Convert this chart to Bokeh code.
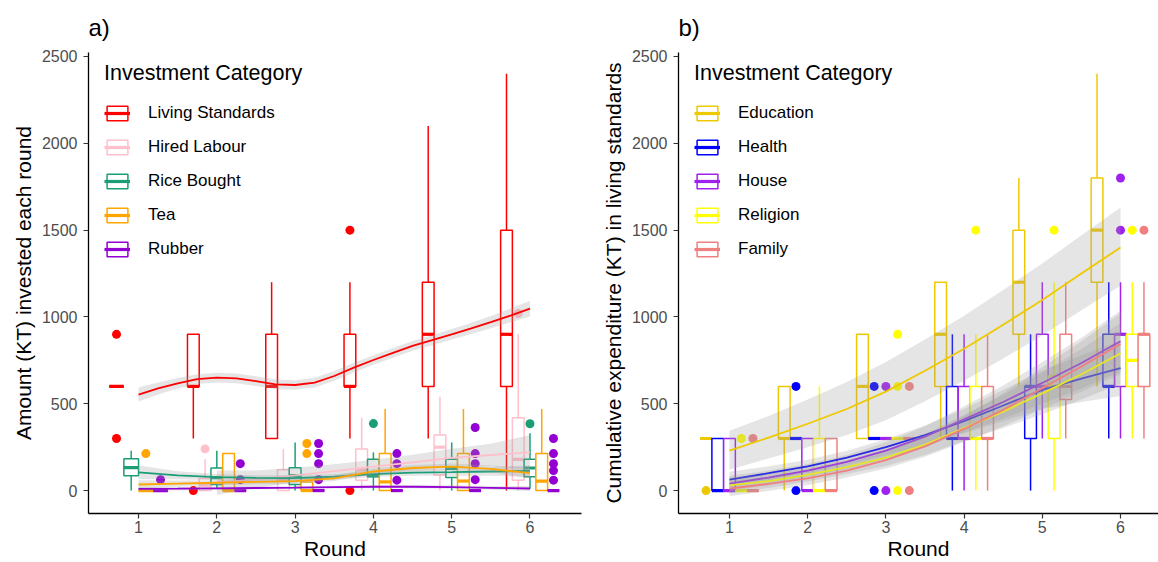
from bokeh.plotting import figure
from bokeh.layouts import row
from bokeh.models import Range1d, Legend, LegendItem, FixedTicker
from bokeh.embed import file_html
from bokeh.resources import INLINE

FONT = "Liberation Sans"
ROUNDS = [1, 2, 3, 4, 5, 6]
X_TICKS = [1, 2, 3, 4, 5, 6]
Y_TICKS = [0, 500, 1000, 1500, 2000, 2500]
SMOOTH_X = [1, 1.5, 2, 2.5, 3, 3.5, 4, 4.5, 5, 5.5, 6]
SMOOTH_X_FINE = [1, 1.25, 1.5, 1.75, 2, 2.25, 2.5, 2.75, 3, 3.25, 3.5, 3.75, 4,
                 4.25, 4.5, 4.75, 5, 5.25, 5.5, 5.75, 6]
SMOOTH_X_FROM2 = [2, 2.5, 3, 3.5, 4, 4.5, 5, 5.5, 6]

# ---------------- Panel a ----------------
A_CATEGORIES = ["Living Standards", "Hired Labour", "Rice Bought", "Tea", "Rubber"]
A_COLORS = ["#FF0000", "#FFC0CB", "#1B9E77", "#FFA500", "#9400D3"]

# per round: (lower whisker, q1, median, q3, upper whisker); None = no data that round
LS_BOX = [(600, 600, 600, 600, 600), (300, 600, 600, 900, 900), (300, 300, 600, 900, 1200),
          (300, 600, 600, 900, 1200), (300, 600, 900, 1200, 2100), (0, 600, 900, 1500, 2400)]
LS_OUT = [[900, 300], [0], [], [1500, 0], [], []]
HL_BOX = [None, (0, 0, 30, 70, 180), (0, 0, 60, 120, 240), (0, 60, 120, 240, 420),
          (0, 90, 250, 320, 540), (0, 60, 180, 420, 900)]
HL_OUT = [[], [240], [], [], [], [1020]]
RB_BOX = [(0, 86, 132, 184, 230), (10, 35, 75, 130, 230), (0, 35, 86, 132, 277),
          (0, 80, 86, 180, 220), (0, 75, 127, 180, 277), (10, 80, 130, 180, 330)]
RB_OUT = [[], [], [], [386], [], [385]]
TEA_BOX = [(0, 0, 0, 0, 0), (0, 0, 0, 213, 213), (0, 0, 0, 50, 50),
           (0, 0, 50, 213, 470), (0, 0, 55, 213, 470), (0, 0, 55, 213, 470)]
TEA_OUT = [[213], [], [271, 213], [], [], []]
RUB_BOX = [(0, 0, 0, 0, 0)] * 6
RUB_OUT = [[63], [155, 63], [271, 213, 155, 63], [213, 155, 60], [363, 213, 155, 63], [300, 213, 155, 115, 60]]

LS_FIT = [553, 588, 618, 642, 651, 646, 630, 612, 608, 622, 660, 708, 752,
          793, 833, 866, 900, 934, 970, 1008, 1048]
LS_LO = [513, 553, 588, 614, 623, 618, 602, 584, 580, 594, 632, 680, 724,
         765, 805, 837, 870, 902, 935, 968, 1003]
LS_HI = [593, 623, 648, 670, 679, 674, 658, 640, 636, 650, 688, 736, 780,
         821, 861, 895, 930, 966, 1005, 1048, 1093]
HL_FIT = [45, 65, 88, 112, 138, 163, 188, 205, 220]
HL_LO = [-25, 15, 45, 72, 98, 120, 135, 140, 120]
HL_HI = [115, 115, 131, 152, 178, 206, 241, 270, 320]
RB_FIT = [105, 88, 78, 73, 72, 80, 95, 103, 106, 110, 113]
RB_LO = [65, 65, 60, 57, 56, 64, 78, 85, 86, 85, 80]
RB_HI = [145, 111, 96, 89, 88, 96, 112, 121, 126, 135, 146]
TEA_FIT = [35, 40, 45, 50, 55, 70, 110, 130, 138, 125, 100]
TEA_LO = [10, 22, 30, 35, 40, 55, 92, 112, 120, 105, 70]
TEA_HI = [60, 58, 60, 65, 70, 85, 128, 148, 156, 145, 130]
RUB_FIT = [10, 11, 13, 15, 17, 20, 22, 22, 20, 16, 12]
RUB_LO = [-2, 1, 4, 7, 9, 12, 14, 13, 10, 5, -2]
RUB_HI = [22, 21, 22, 23, 25, 28, 30, 31, 30, 27, 26]

# ---------------- Panel b ----------------
B_CATEGORIES = ["Education", "Health", "House", "Religion", "Family"]
B_COLORS = ["#EEC900", "#0000FF", "#A020F0", "#FFFF00", "#F08080"]

ED_BOX = [(300, 300, 300, 300, 300), (0, 300, 300, 600, 600), (300, 300, 600, 900, 900),
          (300, 600, 900, 1200, 1200), (600, 900, 1200, 1500, 1800), (600, 1200, 1500, 1800, 2400)]
ED_OUT = [[0], [], [], [], [], []]
HE_BOX = [(0, 0, 0, 300, 300), (300, 300, 300, 300, 300), (300, 300, 300, 300, 300),
          (0, 300, 300, 600, 900), (0, 300, 600, 600, 900), (300, 600, 600, 900, 1200)]
HE_OUT = [[], [600, 0], [600, 0], [], [], []]
HO_BOX = [(0, 0, 0, 300, 300), (0, 0, 0, 300, 300), (300, 300, 300, 300, 300),
          (0, 300, 300, 600, 900), (300, 600, 600, 900, 1200), (300, 600, 900, 900, 1200)]
HO_OUT = [[], [], [600, 0], [], [], [1800, 1500]]
RE_BOX = [(0, 0, 0, 0, 0), (0, 0, 0, 300, 600), (300, 300, 300, 300, 300),
          (0, 300, 300, 600, 900), (0, 300, 600, 660, 1200), (300, 600, 750, 900, 1200)]
RE_OUT = [[300], [], [900, 600, 0], [1500], [1500], [1500]]
FA_BOX = [(0, 0, 0, 0, 0), (0, 0, 0, 300, 300), (300, 300, 300, 300, 300),
          (0, 300, 300, 600, 900), (300, 525, 600, 900, 1200), (300, 600, 900, 900, 1200)]
FA_OUT = [[300], [], [600, 0], [], [], [1500]]

ED_FIT = [230, 305, 385, 470, 570, 690, 817, 955, 1098, 1250, 1400]
ED_LO = [120, 185, 250, 320, 405, 515, 632, 760, 893, 1038, 1180]
ED_HI = [345, 430, 525, 625, 740, 870, 1007, 1155, 1308, 1470, 1630]
HE_FIT = [63, 100, 140, 190, 250, 320, 400, 490, 580, 645, 705]
HE_LO = [18, 60, 102, 150, 205, 265, 330, 400, 470, 510, 545]
HE_HI = [108, 140, 178, 230, 295, 375, 470, 580, 690, 780, 865]
HO_FIT = [40, 75, 115, 165, 230, 310, 410, 510, 620, 735, 860]
HO_LO = [-5, 35, 77, 125, 182, 250, 335, 415, 500, 590, 685]
HO_HI = [85, 115, 153, 205, 278, 370, 485, 605, 740, 880, 1035]
RE_FIT = [30, 55, 90, 135, 190, 265, 360, 455, 560, 670, 790]
RE_LO = [-15, 15, 52, 95, 142, 205, 285, 360, 440, 525, 615]
RE_HI = [75, 95, 128, 175, 238, 325, 435, 550, 680, 815, 965]
FA_FIT = [12, 38, 70, 115, 175, 255, 355, 465, 590, 715, 845]
FA_LO = [-33, -2, 32, 75, 127, 195, 280, 370, 470, 570, 670]
FA_HI = [57, 78, 108, 155, 223, 315, 430, 560, 710, 860, 1020]

DODGE_WIDTH = 0.75


def make_panel(label, ylabel, x_start, x_end, width, border_right, cats, colors, boxes, outs, smooths):
    p = figure(width=width, height=562, x_range=Range1d(x_start, x_end), y_range=Range1d(-132, 2523),
               output_backend="svg", toolbar_location=None,
               min_border_left=88, min_border_right=border_right, min_border_top=52, min_border_bottom=49)
    p.outline_line_color = None
    p.xgrid.visible = False
    p.ygrid.visible = False
    p.background_fill_color = "white"
    p.border_fill_color = "white"

    p.title.text = label
    p.title.text_font = FONT
    p.title.text_font_size = "24px"
    p.title.text_font_style = "normal"
    p.title.text_color = "black"
    p.title.align = "left"
    p.title.standoff = 23

    for ax in (p.xaxis, p.yaxis):
        ax.axis_line_color = "black"
        ax.axis_line_width = 1.3
        ax.major_tick_line_color = "#333333"
        ax.major_tick_line_width = 1.2
        ax.major_tick_out = 5
        ax.major_tick_in = 0
        ax.minor_tick_line_color = None
        ax.major_label_text_font = FONT
        ax.major_label_text_font_size = "16px"
        ax.major_label_text_color = "#4D4D4D"
        ax.axis_label_text_font = FONT
        ax.axis_label_text_font_size = "21px"
        ax.axis_label_text_font_style = "normal"
        ax.axis_label_text_color = "black"
    p.xaxis.ticker = FixedTicker(ticks=X_TICKS)
    p.yaxis.ticker = FixedTicker(ticks=Y_TICKS)
    p.xaxis.axis_label = "Round"
    p.yaxis.axis_label = ylabel
    p.xaxis.major_label_standoff = 2
    p.xaxis.axis_label_standoff = 1
    p.yaxis.major_label_standoff = 6
    p.yaxis.axis_label_standoff = 4

    # dodge positions per round
    n_cat = len(cats)
    geo = {i: dict(x=[], w=[], lo=[], q1=[], md=[], q3=[], hi=[], ox=[], oy=[]) for i in range(n_cat)}
    for ri, r in enumerate(ROUNDS):
        present = [i for i in range(n_cat) if boxes[i][ri] is not None]
        n = len(present)
        step = DODGE_WIDTH / n
        for k, i in enumerate(present):
            xc = r + (k - (n - 1) / 2) * step
            lo, q1, md, q3, hi = boxes[i][ri]
            g = geo[i]
            g["x"].append(xc); g["w"].append(step)
            g["lo"].append(lo); g["q1"].append(q1); g["md"].append(md); g["q3"].append(q3); g["hi"].append(hi)
            for o in outs[i][ri]:
                g["ox"].append(xc); g["oy"].append(o)

    items = []
    for i in range(n_cat):
        g = geo[i]
        col = colors[i]
        p.segment(g["x"], g["q3"], g["x"], g["hi"], line_color=col, line_width=1.5)
        p.segment(g["x"], g["lo"], g["x"], g["q1"], line_color=col, line_width=1.5)
        left = [x - w / 2 for x, w in zip(g["x"], g["w"])]
        right = [x + w / 2 for x, w in zip(g["x"], g["w"])]
        qr = p.quad(left=left, right=right, bottom=g["q1"], top=g["q3"], fill_color="white",
                    line_color=col, line_width=1.5)
        mr = p.segment(left, g["md"], right, g["md"], line_color=col, line_width=3.2)
        p.scatter(g["ox"], g["oy"], size=9, fill_color=col, line_color=None)
        items.append(LegendItem(label=cats[i], renderers=[qr, mr]))

    for i, (sx, fit, lo, hi) in enumerate(smooths):
        p.varea(x=sx, y1=lo, y2=hi, fill_color="#999999", fill_alpha=0.26)
        p.line(sx, fit, line_color=colors[i], line_width=1.8)

    legend = Legend(items=items, location=(16, 254), title="Investment Category",
                    title_text_font=FONT, title_text_font_size="21.5px", title_text_font_style="normal",
                    title_text_color="black", title_standoff=17,
                    label_text_font=FONT, label_text_font_size="17px", label_text_color="black",
                    glyph_width=26, glyph_height=18, label_standoff=18, spacing=14,
                    padding=0, margin=0, border_line_color=None, background_fill_alpha=0)
    p.add_layout(legend)
    return p


pa = make_panel("a)", "Amount (KT) invested each round", 0.361, 6.658, 590, 9,
                A_CATEGORIES, A_COLORS,
                [LS_BOX, HL_BOX, RB_BOX, TEA_BOX, RUB_BOX],
                [LS_OUT, HL_OUT, RB_OUT, TEA_OUT, RUB_OUT],
                [(SMOOTH_X_FINE, LS_FIT, LS_LO, LS_HI), (SMOOTH_X_FROM2, HL_FIT, HL_LO, HL_HI),
                 (SMOOTH_X, RB_FIT, RB_LO, RB_HI), (SMOOTH_X, TEA_FIT, TEA_LO, TEA_HI),
                 (SMOOTH_X, RUB_FIT, RUB_LO, RUB_HI)])

pb = make_panel("b)", "Cumulative expenditure (KT) in living standards", 0.348, 6.486, 568, 0,
                B_CATEGORIES, B_COLORS,
                [ED_BOX, HE_BOX, HO_BOX, RE_BOX, FA_BOX],
                [ED_OUT, HE_OUT, HO_OUT, RE_OUT, FA_OUT],
                [(SMOOTH_X, ED_FIT, ED_LO, ED_HI), (SMOOTH_X, HE_FIT, HE_LO, HE_HI),
                 (SMOOTH_X, HO_FIT, HO_LO, HO_HI), (SMOOTH_X, RE_FIT, RE_LO, RE_HI),
                 (SMOOTH_X, FA_FIT, FA_LO, FA_HI)])

layout = row(pa, pb)
open("out.html", "w").write(file_html(layout, INLINE))
